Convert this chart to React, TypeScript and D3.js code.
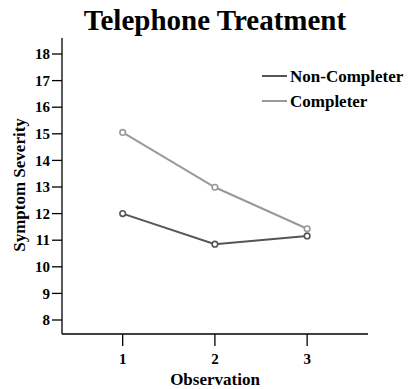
import React from "react";
import * as d3 from "d3";

const observations = [1, 2, 3];
const nonCompleter = [12.0, 10.85, 11.16];
const completer = [15.05, 12.99, 11.43];
const yTicks = [8, 9, 10, 11, 12, 13, 14, 15, 16, 17, 18];
const seriesNames = ["Non-Completer", "Completer"];
const seriesColors = ["#555555", "#999999"];

export default function App() {
  const W = 409, H = 389;
  const x = d3.scaleLinear().domain([0.342, 3.66]).range([62, 368]);
  const y = d3.scaleLinear().domain([8, 18]).range([320, 54]);
  const line = d3.line<number>().x((_, i) => x(observations[i])).y((d) => y(d));
  const series = [nonCompleter, completer];
  const font = "'Liberation Serif', 'Times New Roman', serif";
  return (
    <svg width={W} height={H} style={{ position: "absolute", left: 0, top: 0 }} fontFamily={font} fontWeight="bold">
      <rect width={W} height={H} fill="#fff" />
      <text x={215} y={30} textAnchor="middle" fontSize={29}>Telephone Treatment</text>
      {/* y axis */}
      <line x1={62} x2={62} y1={38} y2={334} stroke="#000" strokeWidth={1.3} />
      {yTicks.map((t) => (
        <g key={t}>
          <line x1={52} x2={62} y1={y(t)} y2={y(t)} stroke="#000" strokeWidth={1.3} />
          <text x={50} y={y(t)} dy="0.35em" textAnchor="end" fontSize={15}>{t}</text>
        </g>
      ))}
      {/* x axis */}
      <line x1={62} x2={368} y1={334} y2={334} stroke="#000" strokeWidth={1.3} />
      {observations.map((o) => (
        <g key={o}>
          <line x1={x(o)} x2={x(o)} y1={334} y2={346} stroke="#000" strokeWidth={1.3} />
          <text x={x(o)} y={359} dy="0.35em" textAnchor="middle" fontSize={15}>{o}</text>
        </g>
      ))}
      <text x={215} y={379} dy="0.35em" textAnchor="middle" fontSize={17}>Observation</text>
      <text transform={`translate(19,185) rotate(-90)`} dy="0.35em" textAnchor="middle" fontSize={17}>Symptom Severity</text>
      {series.map((s, si) => (
        <g key={si}>
          <path d={line(s) || ""} fill="none" stroke={seriesColors[si]} strokeWidth={2} />
          {s.map((v, i) => (
            <circle key={i} cx={x(observations[i])} cy={y(v)} r={2.8} fill="#fff" stroke={seriesColors[si]} strokeWidth={1.6} />
          ))}
        </g>
      ))}
      {seriesNames.map((n, i) => (
        <g key={n}>
          <line x1={262} x2={287} y1={76 + i * 25} y2={76 + i * 25} stroke={seriesColors[i]} strokeWidth={2} />
          <text x={290} y={76 + i * 25} dy="0.35em" fontSize={17}>{n}</text>
        </g>
      ))}
    </svg>
  );
}
